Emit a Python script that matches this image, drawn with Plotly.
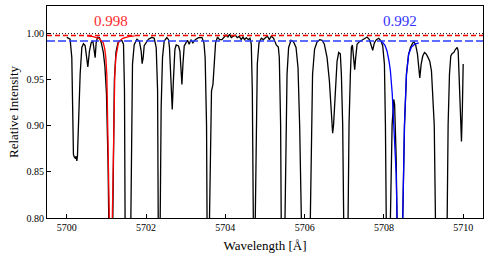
import plotly.graph_objects as go

# Observed spectrum (black)
wave = [5700.000, 5700.083, 5700.126, 5700.152, 5700.167, 5700.190, 5700.210, 5700.235, 5700.253, 5700.268,
        5700.293, 5700.336, 5700.379, 5700.419, 5700.462, 5700.490, 5700.505, 5700.530, 5700.571, 5700.614,
        5700.657, 5700.680, 5700.697, 5700.715, 5700.740, 5700.773, 5700.823, 5700.87, 5700.92, 5700.96,
        5701.00, 5701.04, 5701.07, 5701.11, 5701.15, 5701.175, 5701.20, 5701.24, 5701.29, 5701.34,
        5701.39, 5701.43, 5701.455, 5701.47, 5701.545, 5701.616, 5701.63, 5701.657, 5701.70, 5701.768,
        5701.83, 5701.876, 5701.90, 5701.927, 5701.952, 5702.00, 5702.06, 5702.146, 5702.205, 5702.255,
        5702.29, 5702.306, 5702.33, 5702.356, 5702.38, 5702.414, 5702.457, 5702.525, 5702.566, 5702.59,
        5702.626, 5702.66, 5702.692, 5702.727, 5702.76, 5702.818, 5702.853, 5702.879, 5702.904, 5702.93,
        5702.962, 5703.005, 5703.045, 5703.088, 5703.13, 5703.18, 5703.24, 5703.323, 5703.41, 5703.46,
        5703.49, 5703.525, 5703.55, 5703.575, 5703.60, 5703.626, 5703.65, 5703.687, 5703.72, 5703.753,
        5703.803, 5703.854, 5703.914, 5703.965, 5704.015, 5704.066, 5704.106, 5704.149, 5704.20, 5704.25,
        5704.30, 5704.35, 5704.40, 5704.444, 5704.485, 5704.528, 5704.578, 5704.62, 5704.654, 5704.68,
        5704.705, 5704.73, 5704.755, 5704.78, 5704.806, 5704.848, 5704.907, 5704.957, 5705.008, 5705.058,
        5705.109, 5705.16, 5705.217, 5705.26, 5705.285, 5705.336, 5705.361, 5705.394, 5705.42, 5705.46,
        5705.505, 5705.53, 5705.556, 5705.596, 5705.657, 5705.722, 5705.783, 5705.833, 5705.874, 5705.917,
        5706.03, 5706.144, 5706.17, 5706.20, 5706.25, 5706.313, 5706.38, 5706.44, 5706.497, 5706.566,
        5706.624, 5706.674, 5706.707, 5706.73, 5706.775, 5706.818, 5706.859, 5706.90, 5706.927, 5706.96,
        5706.985, 5707.04, 5707.096, 5707.12, 5707.154, 5707.18, 5707.205, 5707.237, 5707.263, 5707.288,
        5707.323, 5707.374, 5707.45, 5707.515, 5707.576, 5707.634, 5707.684, 5707.717, 5707.76, 5707.81,
        5707.87, 5707.93, 5707.97, 5708.013, 5708.038, 5708.063, 5708.11, 5708.164, 5708.207, 5708.248,
        5708.27, 5708.31, 5708.333, 5708.40, 5708.475, 5708.52, 5708.57, 5708.62, 5708.67, 5708.727,
        5708.76, 5708.80, 5708.846, 5708.88, 5708.905, 5708.94, 5708.98, 5709.023, 5709.066, 5709.116,
        5709.157, 5709.20, 5709.233, 5709.27, 5709.30, 5709.45, 5709.596, 5709.62, 5709.654, 5709.687,
        5709.722, 5709.763, 5709.806, 5709.85, 5709.874, 5709.907, 5709.94, 5709.957, 5709.98, 5710.0]
flux = [0.9959, 0.994, 0.974, 0.901, 0.869, 0.866, 0.865, 0.867, 0.862, 0.867,
        0.901, 0.956, 0.985, 0.989, 0.987, 0.975, 0.967, 0.964, 0.981, 0.990,
        0.992, 0.985, 0.976, 0.974, 0.990, 0.996, 0.9957, 0.990, 0.980, 0.965,
        0.935, 0.86, 0.76, 0.55, 0.76, 0.88, 0.95, 0.980, 0.990, 0.9925,
        0.9925, 0.9886, 0.9377, 0.80, 0.50, 0.80, 0.901, 0.967, 0.988, 0.994,
        0.992, 0.981, 0.9675, 0.974, 0.987, 0.990, 0.994, 0.996, 0.995, 0.985,
        0.938, 0.80, 0.55, 0.80, 0.9196, 0.974, 0.992, 0.9957, 0.9935, 0.985,
        0.945, 0.9177, 0.952, 0.983, 0.9877, 0.9866, 0.981, 0.967, 0.945, 0.967,
        0.9866, 0.990, 0.9928, 0.9886, 0.9935, 0.990, 0.9935, 0.9957, 0.9957, 0.990,
        0.974, 0.901, 0.80, 0.50, 0.80, 0.901, 0.9377, 0.945, 0.974, 0.990,
        0.9963, 0.9935, 0.9935, 0.9963, 0.9985, 0.9963, 0.9993, 0.9957, 0.9975, 0.9985,
        0.9957, 0.997, 0.9935, 0.9963, 0.9935, 0.9957, 0.9935, 0.995, 0.9886, 0.9377,
        0.80, 0.50, 0.80, 0.901, 0.967, 0.990, 0.995, 0.9935, 0.9957, 0.9975,
        0.9935, 0.9975, 0.995, 0.990, 0.9877, 0.9855, 0.974, 0.901, 0.80, 0.45,
        0.80, 0.901, 0.956, 0.985, 0.9928, 0.991, 0.985, 0.963, 0.901, 0.80,
        0.40, 0.80, 0.901, 0.956, 0.983, 0.991, 0.9935, 0.9928, 0.9886, 0.974,
        0.949, 0.920, 0.892, 0.901, 0.945, 0.970, 0.9795, 0.978, 0.956, 0.901,
        0.80, 0.50, 0.80, 0.901, 0.956, 0.985, 0.9877, 0.974, 0.961, 0.974,
        0.9886, 0.991, 0.9928, 0.995, 0.9963, 0.9935, 0.9866, 0.982, 0.990, 0.9935,
        0.995, 0.992, 0.9866, 0.967, 0.901, 0.80, 0.55, 0.80, 0.901, 0.9286,
        0.923, 0.865, 0.80, 0.55, 0.80, 0.901, 0.956, 0.977, 0.985, 0.990,
        0.991, 0.988, 0.978, 0.9595, 0.952, 0.967, 0.9757, 0.9795, 0.978, 0.974,
        0.970, 0.9595, 0.9377, 0.901, 0.80, 0.45, 0.80, 0.901, 0.956, 0.9757,
        0.9785, 0.9795, 0.983, 0.985, 0.981, 0.9377, 0.887, 0.883, 0.9196, 0.967]

# Fitted line profile (red), continuum 0.998
red_wave = [5700.51, 5700.66, 5700.81, 5700.89, 5700.92, 5700.955, 5700.984, 5701.01, 5701.038, 5701.06,
            5701.072, 5701.09, 5701.11, 5701.13, 5701.148, 5701.16, 5701.182, 5701.21, 5701.236, 5701.265,
            5701.30, 5701.33, 5701.41, 5701.56, 5701.71]
red_flux = [0.9975, 0.9968, 0.995, 0.992, 0.990, 0.984, 0.974, 0.955, 0.90, 0.84,
            0.80, 0.70, 0.60, 0.70, 0.80, 0.84, 0.90, 0.955, 0.974, 0.984,
            0.990, 0.992, 0.995, 0.9968, 0.9975]

# Fitted line profile (blue), continuum 0.992
blue_wave = [5707.91, 5707.97, 5708.03, 5708.08, 5708.13, 5708.164, 5708.21, 5708.248, 5708.31, 5708.333,
             5708.36, 5708.40, 5708.44, 5708.475, 5708.50, 5708.518, 5708.568, 5708.627, 5708.695, 5708.778,
             5708.88]
blue_flux = [0.992, 0.9905, 0.987, 0.981, 0.970, 0.9595, 0.935, 0.901, 0.847, 0.80,
             0.72, 0.62, 0.72, 0.80, 0.86, 0.901, 0.956, 0.978, 0.9855, 0.9886,
             0.990]

levels = [1.000, 0.998, 0.992]
level_labels = ["0.998", "0.992"]
label_x = [5701.11, 5708.40]
label_y = 1.0135

x_ticks = [5700, 5702, 5704, 5706, 5708, 5710]
y_ticks = [0.80, 0.85, 0.90, 0.95, 1.00]

FONT = "'Liberation Serif', 'DejaVu Serif', serif"

fig = go.Figure()
fig.add_trace(go.Scatter(x=wave, y=flux, mode="lines",
                         line=dict(color="black", width=1.3), showlegend=False))
fig.add_trace(go.Scatter(x=red_wave, y=red_flux, mode="lines",
                         line=dict(color="red", width=1.3), showlegend=False))
fig.add_trace(go.Scatter(x=blue_wave, y=blue_flux, mode="lines",
                         line=dict(color="blue", width=1.3), showlegend=False))

fig.add_hline(y=levels[0], line=dict(color="black", width=1, dash="1px,2px"))
fig.add_hline(y=levels[1], line=dict(color="red", width=1.5, dash="5px,3px"))
fig.add_hline(y=levels[2], line=dict(color="rgba(40,60,255,0.75)", width=2, dash="8px,3px"))

fig.add_annotation(x=label_x[0], y=label_y, text=level_labels[0], showarrow=False,
                   font=dict(family=FONT, size=15, color="rgb(255,40,40)"))
fig.add_annotation(x=label_x[1], y=label_y, text=level_labels[1], showarrow=False,
                   font=dict(family=FONT, size=15, color="rgb(50,50,255)"))

fig.update_layout(
    width=490, height=259,
    margin=dict(l=47, r=7, t=6, b=41, autoexpand=False),
    paper_bgcolor="white", plot_bgcolor="white",
    font=dict(family=FONT, size=10, color="black"),
)
fig.update_xaxes(range=[5699.5, 5710.5], tickvals=x_ticks, ticktext=[str(v) for v in x_ticks],
                 ticks="inside", ticklen=4, tickcolor="black", showgrid=False, zeroline=False,
                 showline=True, mirror=True, linecolor="black", linewidth=1, automargin=False,
                 title=dict(text="Wavelength [Å]", font=dict(family=FONT, size=13), standoff=8),
                 tickfont=dict(family=FONT, size=10))
fig.update_yaxes(range=[0.80, 1.03], tickvals=y_ticks, ticktext=["%.2f" % v for v in y_ticks],
                 ticks="inside", ticklen=4, tickcolor="black", showgrid=False, zeroline=False,
                 showline=True, mirror=True, linecolor="black", linewidth=1, automargin=False,
                 title=dict(text="Relative Intensity", font=dict(family=FONT, size=13), standoff=4),
                 tickfont=dict(family=FONT, size=10))

fig.write_html("out.html", config={"displayModeBar": False},
               post_script="document.body.style.margin='0px';")
